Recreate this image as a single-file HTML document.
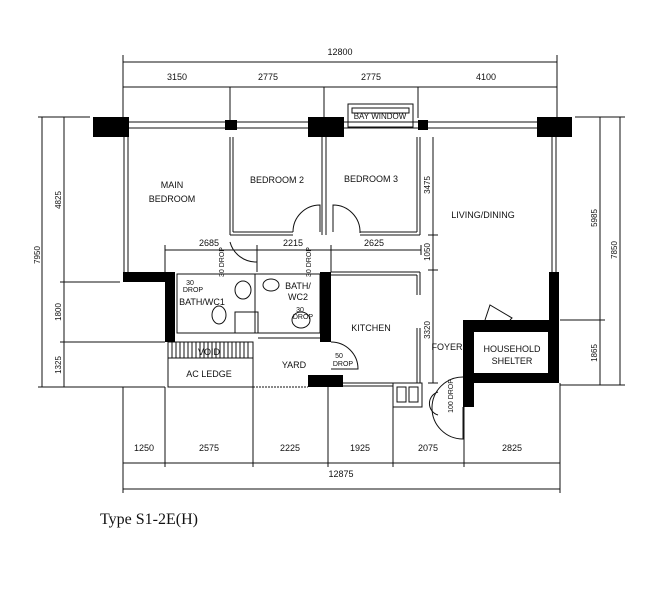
<!DOCTYPE html>
<html><head><meta charset="utf-8"><style>
html,body{margin:0;padding:0;background:#fff;width:651px;height:600px;overflow:hidden}
svg{display:block}
text{font-family:"Liberation Sans",sans-serif;fill:#111}
text.cap{font-family:"Liberation Serif",serif}
</style></head><body>
<svg width="651" height="600" viewBox="0 0 651 600" xmlns="http://www.w3.org/2000/svg">
<g stroke="#111" stroke-width="1" fill="none">
<line x1="123" y1="62" x2="557" y2="62"/>
<line x1="123" y1="87" x2="557" y2="87"/>
<line x1="123" y1="55" x2="123" y2="117"/>
<line x1="557" y1="55" x2="557" y2="117"/>
<line x1="230" y1="87" x2="230" y2="122"/>
<line x1="324" y1="87" x2="324" y2="117"/>
<line x1="418" y1="87" x2="418" y2="118"/>
<line x1="42" y1="117" x2="42" y2="387"/>
<line x1="64" y1="117" x2="64" y2="387"/>
<line x1="38" y1="117" x2="90" y2="117"/>
<line x1="60" y1="282" x2="120" y2="282"/>
<line x1="60" y1="342" x2="165" y2="342"/>
<line x1="38" y1="387" x2="165" y2="387"/>
<line x1="600" y1="117" x2="600" y2="385"/>
<line x1="620" y1="117" x2="620" y2="385"/>
<line x1="575" y1="117" x2="625" y2="117"/>
<line x1="560" y1="320" x2="605" y2="320"/>
<line x1="560" y1="385" x2="625" y2="385"/>
<line x1="123" y1="463" x2="560" y2="463"/>
<line x1="123" y1="489" x2="560" y2="489"/>
<line x1="123" y1="387" x2="123" y2="493"/>
<line x1="165" y1="387" x2="165" y2="467"/>
<line x1="253" y1="387" x2="253" y2="467"/>
<line x1="328" y1="387" x2="328" y2="467"/>
<line x1="393" y1="407" x2="393" y2="467"/>
<line x1="464" y1="407" x2="464" y2="467"/>
<line x1="560" y1="383" x2="560" y2="493"/>
<line x1="165" y1="250" x2="421" y2="250"/>
<line x1="165" y1="245" x2="165" y2="272"/>
<line x1="257" y1="245" x2="257" y2="272"/>
<line x1="331" y1="245" x2="331" y2="272"/>
<line x1="421" y1="245" x2="421" y2="255"/>
<line x1="433" y1="137" x2="433" y2="383"/>
<line x1="428" y1="235" x2="438" y2="235"/>
<line x1="428" y1="270" x2="438" y2="270"/>
<line x1="428" y1="383" x2="438" y2="383"/>
<line x1="129" y1="122" x2="537" y2="122"/>
<line x1="129" y1="128" x2="308" y2="128"/>
<line x1="344" y1="128" x2="537" y2="128"/>
<rect x="348" y="104" width="65" height="23"/>
<rect x="352" y="108" width="57" height="5"/>
<line x1="124" y1="137" x2="124" y2="272"/><line x1="128" y1="137" x2="128" y2="272"/>
<line x1="230" y1="137" x2="230" y2="235"/><line x1="233" y1="137" x2="233" y2="232"/>
<line x1="230" y1="235" x2="293" y2="235"/><line x1="233" y1="232" x2="293" y2="232"/>
<line x1="322" y1="137" x2="322" y2="235"/><line x1="326" y1="137" x2="326" y2="235"/>
<line x1="360" y1="235" x2="420" y2="235"/><line x1="360" y1="232" x2="417" y2="232"/>
<line x1="417" y1="137" x2="417" y2="232"/><line x1="420" y1="137" x2="420" y2="235"/>
<line x1="552" y1="137" x2="552" y2="272"/><line x1="556" y1="137" x2="556" y2="272"/>
<path d="M293 232 A27 27 0 0 1 320 205 L320 232"/>
<path d="M360 233 A27 27 0 0 0 333 205 L333 232"/>
<path d="M257 262 A27 27 0 0 1 230 242"/>
<rect x="177" y="274" width="143" height="59"/>
<line x1="255" y1="274" x2="255" y2="333"/>
<rect x="235" y="312" width="23" height="21"/>
<ellipse cx="243" cy="290" rx="8" ry="9"/><ellipse cx="219" cy="315" rx="7" ry="9"/>
<ellipse cx="271" cy="285" rx="8" ry="6"/><ellipse cx="301" cy="320" rx="9" ry="8"/>
<line x1="331" y1="272" x2="420" y2="272"/><line x1="331" y1="275" x2="417" y2="275"/>
<line x1="417" y1="275" x2="417" y2="295"/><line x1="420" y1="272" x2="420" y2="295"/>
<line x1="417" y1="328" x2="417" y2="383"/><line x1="420" y1="328" x2="420" y2="383"/>
<line x1="343" y1="383" x2="418" y2="383"/><line x1="343" y1="386" x2="393" y2="386"/>
<rect x="393" y="383" width="29" height="24"/>
<rect x="397" y="387" width="9" height="15"/><rect x="409" y="387" width="9" height="15"/>
<path d="M331 342 A27 27 0 0 1 358 369 L331 369"/>
<rect x="168" y="342" width="85" height="45"/>
<line x1="168" y1="358" x2="253" y2="358"/>
<path d="M172 342v16M176 342v16M180 342v16M184 342v16M188 342v16M192 342v16M196 342v16M200 342v16M204 342v16M208 342v16M212 342v16M216 342v16M220 342v16M224 342v16M228 342v16M232 342v16M236 342v16M240 342v16M244 342v16M248 342v16"/>
<line x1="253" y1="342" x2="253" y2="387"/>
<line x1="253" y1="387" x2="308" y2="387" stroke-dasharray="2 1"/>
<line x1="258" y1="338" x2="320" y2="338"/>
<path d="M485 320 L490 305 L512 318 L510 320"/>
<path d="M463 377 A31 31 0 0 0 463 439 L463 407"/>
<path d="M438 392 A12 12 0 0 0 438 415"/>
</g>
<g fill="#000">
<rect x="93" y="117" width="36" height="20"/>
<rect x="308" y="117" width="36" height="20"/>
<rect x="537" y="117" width="35" height="20"/>
<rect x="225" y="120" width="12" height="10"/>
<rect x="418" y="120" width="10" height="10"/>
<rect x="123" y="272" width="52" height="10"/>
<rect x="165" y="272" width="10" height="70"/>
<rect x="320" y="272" width="11" height="70"/>
<rect x="308" y="375" width="35" height="12"/>
<rect x="549" y="272" width="10" height="111"/>
<path d="M463 320 H559 V383 H474 V407 H463 Z M474 332 V373 H548 V332 Z" fill-rule="evenodd"/>
</g>
<g font-size="9" text-anchor="middle">
<text x="340" y="55">12800</text>
<text x="177" y="80">3150</text><text x="268" y="80">2775</text><text x="371" y="80">2775</text><text x="486" y="80">4100</text>
<text x="380" y="119" font-size="8">BAY WINDOW</text>
<text x="172" y="188">MAIN</text><text x="172" y="202">BEDROOM</text>
<text x="277" y="183">BEDROOM 2</text>
<text x="371" y="182">BEDROOM 3</text>
<text x="483" y="218">LIVING/DINING</text>
<text x="209" y="246">2685</text><text x="293" y="246">2215</text><text x="374" y="246">2625</text>
<text x="202" y="305">BATH/WC1</text>
<text x="298" y="289">BATH/</text><text x="298" y="300">WC2</text>
<text x="371" y="331">KITCHEN</text>
<text x="447" y="350">FOYER</text>
<text x="512" y="352">HOUSEHOLD</text><text x="512" y="364">SHELTER</text>
<text x="209" y="355">VOID</text>
<text x="209" y="377">AC LEDGE</text>
<text x="294" y="368">YARD</text>
<text x="144" y="451">1250</text><text x="209" y="451">2575</text><text x="290" y="451">2225</text>
<text x="360" y="451">1925</text><text x="428" y="451">2075</text><text x="512" y="451">2825</text>
<text x="341" y="477">12875</text>
<g font-size="7">
<text x="190" y="285">30</text><text x="193" y="292">DROP</text>
<text x="300" y="312">30</text><text x="303" y="319">DROP</text>
<text x="339" y="358">50</text><text x="343" y="366">DROP</text>
</g>
<text transform="translate(430,185) rotate(-90)" font-size="8">3475</text>
<text transform="translate(430,252) rotate(-90)" font-size="8">1050</text>
<text transform="translate(430,330) rotate(-90)" font-size="8">3320</text>
<text transform="translate(61,200) rotate(-90)" font-size="8">4825</text>
<text transform="translate(61,312) rotate(-90)" font-size="8">1800</text>
<text transform="translate(61,365) rotate(-90)" font-size="8">1325</text>
<text transform="translate(40,255) rotate(-90)" font-size="8">7950</text>
<text transform="translate(597,218) rotate(-90)" font-size="8">5985</text>
<text transform="translate(597,353) rotate(-90)" font-size="8">1865</text>
<text transform="translate(617,250) rotate(-90)" font-size="8">7850</text>
<text transform="translate(224,262) rotate(-90)" font-size="7">30 DROP</text>
<text transform="translate(311,262) rotate(-90)" font-size="7">30 DROP</text>
<text transform="translate(453,396) rotate(-90)" font-size="7">100 DROP</text>
</g>
<text class="cap" x="100" y="524" font-size="16">Type S1-2E(H)</text>
</svg>
</body></html>
